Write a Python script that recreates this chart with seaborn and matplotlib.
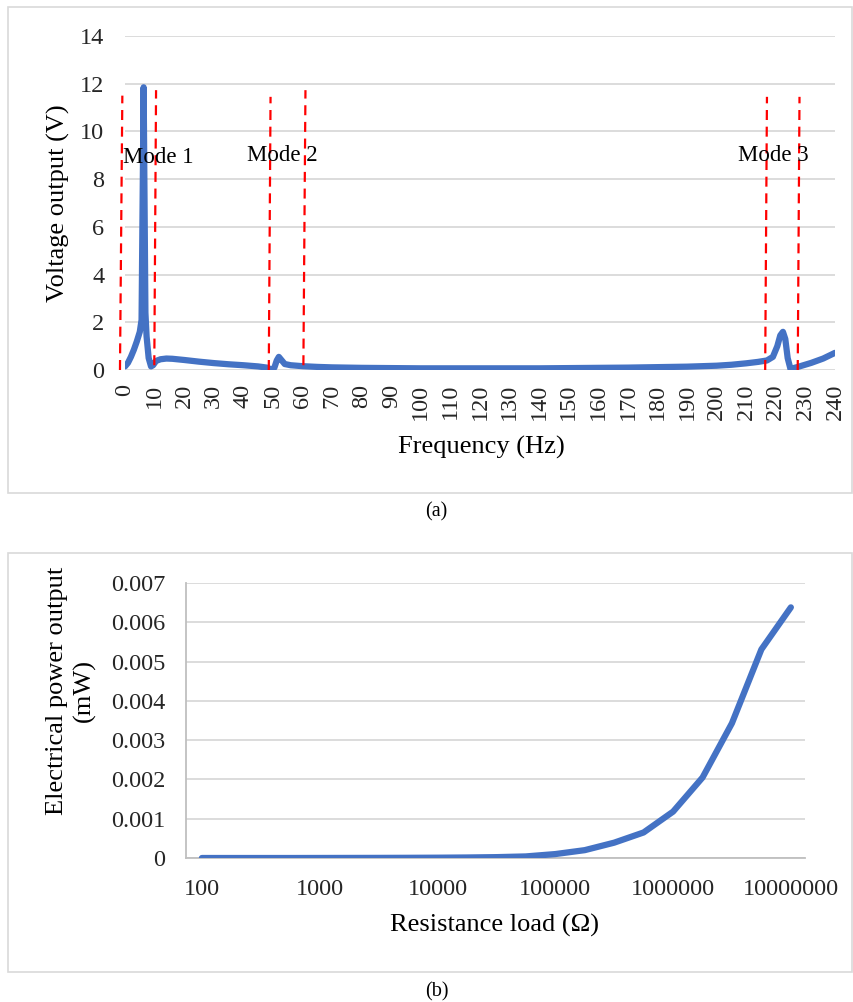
import matplotlib
matplotlib.use("Agg")
import matplotlib.pyplot as plt
from matplotlib.patches import Rectangle
from matplotlib.transforms import ScaledTranslation
import seaborn as sns
import pandas as pd

# Frequency response of the harvester (Hz, V)
freq_hz = [0, 1, 2, 3, 4, 5, 5.6, 6.3, 6.9, 7.3, 8.0, 8.8, 9.5, 10.5, 12, 14, 16, 20,
           25, 30, 35, 40, 45, 48, 49.5, 50.5, 51.3, 52, 53, 54, 56, 60, 65, 70, 80,
           90, 100, 110, 120, 130, 140, 150, 160, 170, 180, 190, 200, 205, 210, 214,
           217, 219, 220.5, 221.5, 222.4, 223.2, 224, 225, 226, 228, 232, 236, 240]
voltage_v = [0.15, 0.3, 0.55, 0.85, 1.2, 1.6, 2.1, 11.85, 2.4, 1.4, 0.5, 0.15, 0.2,
             0.38, 0.45, 0.48, 0.47, 0.42, 0.35, 0.29, 0.24, 0.2, 0.15, 0.1, 0.02,
             0.1, 0.4, 0.55, 0.4, 0.25, 0.2, 0.16, 0.13, 0.11, 0.09, 0.08, 0.07,
             0.07, 0.07, 0.07, 0.07, 0.08, 0.09, 0.1, 0.12, 0.14, 0.18, 0.22, 0.28,
             0.34, 0.4, 0.55, 1.0, 1.45, 1.6, 1.3, 0.5, 0.02, 0.08, 0.15, 0.3, 0.48, 0.72]

# Band markers: (f_bottom, f_top, v_bottom, v_top)
mode_bands = [(-1.7, -0.9, 0.0, 11.5), (9.9, 10.5, 0.2, 11.73),
              (48.6, 49.2, 0.0, 11.45), (60.3, 61.0, 0.2, 11.73),
              (216.4, 217.0, 0.0, 11.45), (227.4, 228.0, 0.0, 11.45)]
mode_names = ["Mode 1", "Mode 2", "Mode 3"]
mode_label_f = [-0.7, 41.2, 207.2]
mode_label_v = [8.9, 9.0, 9.0]
freq_ticks = list(range(0, 241, 10))
volt_ticks = list(range(0, 15, 2))

# Load sweep (ohm, mW)
resistance = [100, 178, 316, 562, 1000, 1780, 3160, 5620, 10000, 17800, 31600,
              56200, 100000, 178000, 316000, 562000, 1000000, 1780000, 3160000,
              5620000, 10000000]
power_mw = [0.0, 0.0, 0.0, 0.0, 0.000001, 0.000002, 0.000003, 0.000005, 0.000008,
            0.000013, 0.000022, 0.000040, 0.00010, 0.00020, 0.00039, 0.00065,
            0.00118, 0.00205, 0.00343, 0.00531, 0.00638]
res_ticks = [100, 1000, 10000, 100000, 1000000, 10000000]
power_ticks = [0, 0.001, 0.002, 0.003, 0.004, 0.005, 0.006, 0.007]

sns.set_theme(style="white")
plt.rcParams["font.family"] = ["Liberation Serif", "DejaVu Serif"]
plt.rcParams["text.color"] = "black"

W, H = 854, 1002
fig = plt.figure(figsize=(W / 100, H / 100), dpi=100)
grid_c = "#D9D9D9"
line_c = "#4472C4"
tick_fs = 17.5


def fx(px):
    return px / W


def fy(py):
    return 1 - py / H


# outer chart frames
for (x0, y0, x1, y1) in [(8, 7, 852, 493), (8, 553, 852, 972)]:
    fig.patches.append(Rectangle((fx(x0), fy(y1)), fx(x1 - x0), (y1 - y0) / H,
                                 transform=fig.transFigure, fill=False,
                                 edgecolor=grid_c, lw=1.2))

# ---- frequency response ----
ax1 = fig.add_axes([fx(125), fy(370), fx(835 - 125), (370 - 36) / H])
df1 = pd.DataFrame({"f": freq_hz, "v": voltage_v})
sns.lineplot(data=df1, x="f", y="v", ax=ax1, color=line_c, lw=4.5,
             solid_joinstyle="round", solid_capstyle="round", zorder=3)
ax1.set_xlim(0, 240)
ax1.set_ylim(0, 14)
ax1.set_yticks(volt_ticks)
ax1.set_yticklabels([str(t) for t in volt_ticks], fontsize=tick_fs)
ax1.set_xticks(freq_ticks)
ax1.set_xticklabels([str(t) for t in freq_ticks], fontsize=tick_fs, rotation=90,
                    va="top", ha="center")
nudge = ScaledTranslation(3 / 100, 0, fig.dpi_scale_trans)
for lab in ax1.get_xticklabels():
    lab.set_transform(lab.get_transform() + nudge)
ax1.tick_params(axis="y", length=0, pad=15)
ax1.tick_params(axis="x", length=0, pad=10)
ax1.grid(axis="y", color=grid_c, lw=1.3)
ax1.set_axisbelow(True)
for s in ax1.spines.values():
    s.set_visible(False)
ax1.set_xlabel("")
ax1.set_ylabel("")

for (fb, ft, vb, vt) in mode_bands:
    ax1.plot([fb, ft], [vb, vt], color="#FF0000", lw=1.6, ls=(0, (4.5, 3)),
             clip_on=False, zorder=4)
for name, f, v in zip(mode_names, mode_label_f, mode_label_v):
    ax1.text(f, v, name, fontsize=16.5, ha="left", va="center", zorder=5)

fig.text(fx(481), fy(447), "Frequency (Hz)", fontsize=19, ha="center", va="center")
fig.text(fx(58), fy(203), "Voltage output (V)", fontsize=19, ha="center",
         va="center", rotation=90)
fig.text(fx(436), fy(512), "(a)", fontsize=14.5, ha="center", va="center")

# ---- load sweep ----
ax2 = fig.add_axes([fx(186), fy(858), fx(805 - 186), (858 - 583) / H])
df2 = pd.DataFrame({"r": resistance, "p": power_mw})
sns.lineplot(data=df2, x="r", y="p", ax=ax2, color=line_c, lw=4.5,
             solid_joinstyle="round", solid_capstyle="round", zorder=3)
ax2.set_xscale("log")
ax2.set_xlim(100 / 10 ** 0.135, 1e7 * 10 ** 0.12)
ax2.set_ylim(0, 0.007)
ax2.set_xticks(res_ticks)
ax2.set_xticklabels([str(t) for t in res_ticks], fontsize=tick_fs)
ax2.xaxis.set_minor_locator(matplotlib.ticker.NullLocator())
ax2.set_yticks(power_ticks)
ax2.set_yticklabels(["0" if t == 0 else f"{t:.3f}" for t in power_ticks],
                    fontsize=tick_fs)
ax2.tick_params(axis="y", length=0, pad=15)
ax2.tick_params(axis="x", length=0, pad=15)
ax2.grid(axis="y", color=grid_c, lw=1.3)
ax2.set_axisbelow(True)
for k, s in ax2.spines.items():
    if k in ("left", "bottom"):
        s.set_color("#BFBFBF")
        s.set_linewidth(1.3)
    else:
        s.set_visible(False)
ax2.set_xlabel("")
ax2.set_ylabel("")

fig.text(fx(495), fy(925), "Resistance load (Ω)", fontsize=19, ha="center", va="center")
fig.text(fx(71), fy(691), "Electrical power output\n(mW)", fontsize=19, ha="center",
         va="center", rotation=90, linespacing=1.3)
fig.text(fx(437), fy(992), "(b)", fontsize=14.5, ha="center", va="center")

fig.savefig("out.png", dpi=100, facecolor="white")
